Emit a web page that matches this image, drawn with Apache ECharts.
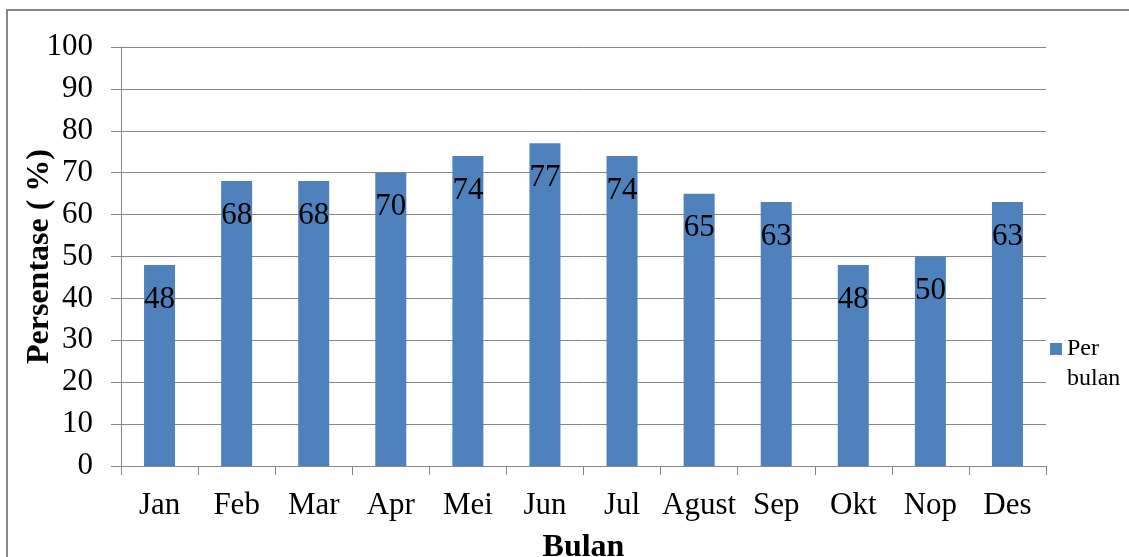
<!DOCTYPE html>
<html>
<head>
<meta charset="utf-8">
<script src="https://cdn.jsdelivr.net/npm/echarts@6/dist/echarts.min.js"></script>
<style>
html,body{margin:0;padding:0;background:#fff;overflow:hidden;}
#c{width:1129px;height:557px;}
</style>
</head>
<body>
<div id="c"></div>
<script>
const categories = ['Jan','Feb','Mar','Apr','Mei','Jun','Jul','Agust','Sep','Okt','Nop','Des'];
const seriesName = 'Per bulan';
const values = [48,68,68,70,74,77,74,65,63,48,50,63];
const yTicks = [0,10,20,30,40,50,60,70,80,90,100];

const FONT = '"Liberation Serif","Times New Roman",serif';
const GRAY = '#878787';
const chart = echarts.init(document.getElementById('c'), null, {renderer:'canvas'});
chart.setOption({
  animation:false,
  backgroundColor:'#fff',
  textStyle:{fontFamily:FONT},
  graphic:[{
    type:'rect', silent:true,
    shape:{x:7,y:10,width:1300,height:700},
    style:{fill:'none',stroke:GRAY,lineWidth:2}
  }],
  grid:{left:121,right:83,top:47,bottom:91,containLabel:false,outerBoundsMode:'none'},
  legend:{
    data:[seriesName],
    left:1045, top:299,
    orient:'vertical',
    icon:'rect', itemWidth:12, itemHeight:12, itemGap:6,
    formatter: n => ' \n' + n.replace(' ','\n'),
    textStyle:{fontFamily:FONT,fontSize:24,color:'#000',lineHeight:30}
  },
  xAxis:{
    type:'category', data:categories,
    name:'Bulan', nameLocation:'middle', nameGap:66, nameMoveOverlap:false,
    nameTextStyle:{fontFamily:FONT,fontSize:32,fontWeight:'bold',color:'#000'},
    axisLine:{lineStyle:{color:GRAY,width:1}},
    axisTick:{show:true,length:9,lineStyle:{color:GRAY,width:1}},
    axisLabel:{fontFamily:FONT,fontSize:31,color:'#000',margin:24,interval:0}
  },
  yAxis:{
    type:'value', min:yTicks[0], max:yTicks[yTicks.length-1], interval:10,
    name:'Persentase ( %)', nameLocation:'middle', nameGap:65, nameRotate:90, nameMoveOverlap:false,
    nameTextStyle:{fontFamily:FONT,fontSize:32,fontWeight:'bold',color:'#000'},
    axisLine:{show:true,lineStyle:{color:GRAY,width:1}},
    axisTick:{show:true,length:10,lineStyle:{color:GRAY,width:1}},
    axisLabel:{fontFamily:FONT,fontSize:31,color:'#000',margin:28},
    splitLine:{show:true,lineStyle:{color:GRAY,width:1}}
  },
  series:[{
    name:seriesName, type:'bar', data:values, barWidth:31,
    itemStyle:{color:'#4F81BD'},
    label:{show:true,position:'insideTop',distance:19,fontFamily:FONT,fontSize:31,color:'#000'}
  }]
});
</script>
</body>
</html>
